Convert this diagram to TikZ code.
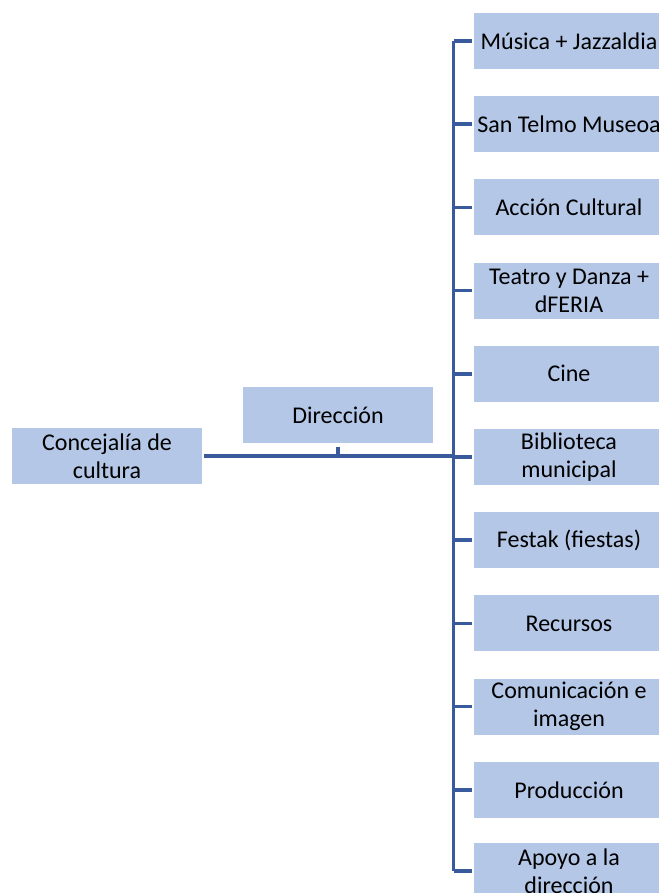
\documentclass[tikz,border=0pt]{standalone}
\usepackage{fontspec}
\setmainfont{Carlito}
\definecolor{boxblue}{HTML}{B4C7E7}
\definecolor{linkblue}{RGB}{58,90,158}
\begin{document}
\begin{tikzpicture}[x=0.75pt,y=-0.75pt,
  orgbox/.style={fill=boxblue, draw=none, minimum width=142.5pt, minimum height=42pt,
    inner sep=0pt, align=center, font=\fontsize{18}{21}\selectfont},
  link/.style={draw=linkblue, line width=2.6pt}]
\useasboundingbox (0,0) rectangle (659,893);
\node[orgbox] (conc) at (107,456) {Concejalía de\\cultura};
\node[orgbox] (dir) at (338,415) {Dirección};
\coordinate (bus) at (453.5,0);
\node[orgbox] (m1) at (569,41.0) {Música + Jazzaldia};
\node[orgbox] (m2) at (569,124.2) {San Telmo Museoa};
\node[orgbox] (m3) at (569,207.4) {Acción Cultural};
\node[orgbox] (m4) at (569,290.6) {Teatro y Danza +\\dFERIA};
\node[orgbox] (m5) at (569,373.8) {Cine};
\node[orgbox] (m6) at (569,457.0) {Biblioteca\\municipal};
\node[orgbox] (m7) at (569,540.2) {Festak (fiestas)};
\node[orgbox] (m8) at (569,623.4) {Recursos};
\node[orgbox] (m9) at (569,706.6) {Comunicación e\\imagen};
\node[orgbox] (m10) at (569,789.8) {Producción};
\node[orgbox] (m11) at (569,871.0) {Apoyo a la\\dirección};
\draw[link] (bus |- m1.west) -- (bus |- m11.west);
\foreach \i in {1,...,11} {
  \draw[link] (bus |- m\i.west) -- ([xshift=-1.5pt]m\i.west);
}
\draw[link] ([xshift=1.5pt]conc.east) -- (bus |- conc.east);
\draw[link] ([yshift=-2.5pt]dir.south) -- (dir.south |- conc.east);
\end{tikzpicture}
\end{document}
